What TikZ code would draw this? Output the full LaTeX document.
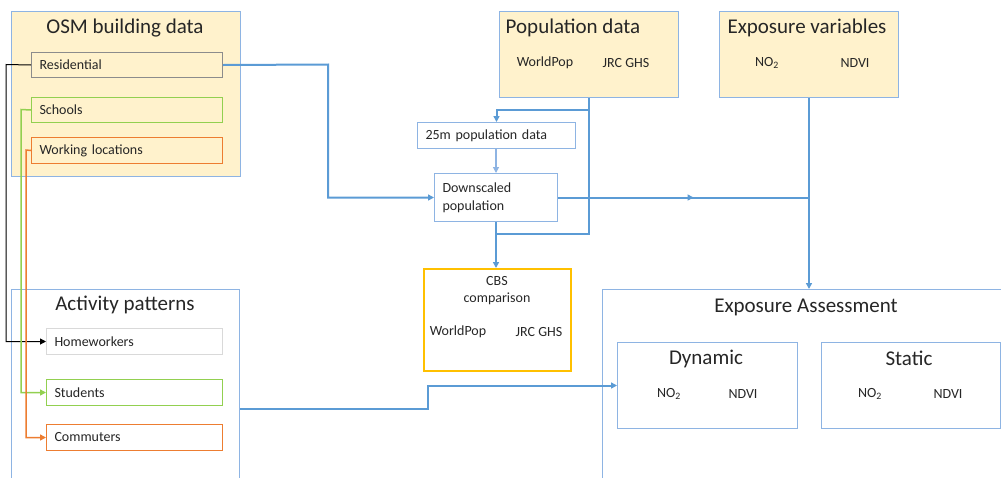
\documentclass[tikz,border=0pt]{standalone}
\usepackage{fontspec}
\setmainfont{Carlito}
\usetikzlibrary{arrows.meta,decorations.markings}
\definecolor{boxfill}{HTML}{FFF2CC}
\definecolor{bord}{HTML}{8EB4E3}
\definecolor{conn}{HTML}{5B9BD5}
\definecolor{resgray}{HTML}{8C8C8C}
\definecolor{grn}{HTML}{92D050}
\definecolor{org}{HTML}{ED7D31}
\definecolor{hwgray}{HTML}{D9D9D9}
\definecolor{gold}{HTML}{FFC000}
\definecolor{txt}{HTML}{262626}
\begin{document}
\begin{tikzpicture}[x=1pt,y=-1pt,
  every node/.style={text=txt},
  small/.style={font=\fontsize{14}{17}\selectfont},
  ttl/.style={font=\fontsize{21}{24}\selectfont, inner sep=0pt},
  frame/.style={draw=bord, line width=1pt, inner sep=0pt, anchor=north west},
  yframe/.style={frame, fill=boxfill},
  item/.style={anchor=north west, inner xsep=8pt, inner ysep=0pt, align=left, small, line width=1pt},
  link/.style={draw=conn, line width=2pt},
  thinlink/.style={draw=bord, line width=1.2pt},
  tip/.style={-{Triangle[length=6pt,width=6pt]}},
  blk/.style={draw=black, line width=1pt},
  grnl/.style={draw=grn, line width=1.5pt},
  orgl/.style={draw=org, line width=1.5pt},
  midtip/.style={postaction={decorate}, decoration={markings, mark=at position #1 with {\arrow{Triangle[length=6pt,width=6pt]}}}}
]
\useasboundingbox (0,0) rectangle (1001,477);
\clip (0,0) rectangle (1001,477);

% OSM building data
\node[yframe, minimum width=229pt, minimum height=165pt] (osm) at (11,11) {};
\node[ttl] (osmt) at (125,28) {OSM building data};
\node[item, draw=resgray, fill=boxfill, text width=175pt, minimum height=25pt] (res) at (31,52) {Residential};
\node[item, draw=grn, fill=boxfill, text width=175pt, minimum height=25pt] (sch) at (31,97) {Schools};
\node[item, draw=org, fill=boxfill, text width=175pt, minimum height=26pt] (work) at (31,137) {Working locations};

% Activity patterns
\node[frame, fill=white, minimum width=228pt, minimum height=200pt] (act) at (11,289) {};
\node[ttl] (actt) at (125,305) {Activity patterns};
\node[item, draw=hwgray, text width=160pt, minimum height=26pt] (hw) at (46,328) {Homeworkers};
\node[item, draw=grn, text width=160pt, minimum height=26pt] (stu) at (46,379) {Students};
\node[item, draw=org, text width=160pt, minimum height=26pt] (com) at (46,424) {Commuters};

% Population data
\node[yframe, minimum width=179pt, minimum height=86pt] (pop) at (499,11) {};
\node[ttl] (popt) at (573,28) {Population data};
\node[small] (popw) at (545,63) {WorldPop};
\node[small] (popj) at (626,63) {JRC GHS};

% Exposure variables
\node[yframe, minimum width=179pt, minimum height=86pt] (ev) at (719,11) {};
\node[ttl] (evt) at (807,28) {Exposure variables};
\node[small] (evn) at (767,63) {NO\textsubscript{2}};
\node[small] (evd) at (855,63) {NDVI};

% 25m and downscaled
\node[item, draw=bord, text width=142pt, minimum height=26pt] (m25) at (417,122) {25m population data};
\node[item, draw=bord, text width=107pt, minimum height=48pt, font=\fontsize{14}{18}\selectfont] (down) at (434,173) {Downscaled\\population};

% CBS comparison
\node[frame, draw=gold, line width=1.5pt, minimum width=147pt, minimum height=102pt] (cbs) at (423,268) {};
\node[small, align=center] (cbst) at (497,290.5) {CBS\\comparison};
\node[small] (cbsw) at (458,332) {WorldPop};
\node[small] (cbsj) at (539,332) {JRC GHS};

% Exposure assessment
\node[frame, fill=white, minimum width=402pt, minimum height=200pt] (ea) at (602,289) {};
\node[ttl] (eat) at (806,307) {Exposure Assessment};
\node[frame, minimum width=180pt, minimum height=86pt] (dyn) at (617,342) {};
\node[ttl] (dynt) at (706,359) {Dynamic};
\node[small] (dynn) at (669,394) {NO\textsubscript{2}};
\node[small] (dynd) at (743,394) {NDVI};
\node[frame, minimum width=179pt, minimum height=86pt] (sta) at (821,342) {};
\node[ttl] (stat) at (909,358) {Static};
\node[small] (stan) at (870,394) {NO\textsubscript{2}};
\node[small] (stad) at (948,394) {NDVI};

% connectors
\draw[link, tip] (res.east) -- (328,64.5) |- (down.west);
\draw[link] (pop.south) |- ([yshift=-12pt]down.south);
\draw[link, tip] ([yshift=-12pt]pop.south) -| (m25.north);
\draw[thinlink, tip] (m25.south -| down.south) -- (down.north);
\draw[link, tip] (down.south) -- (cbs.north -| down.south);
\draw[link, midtip=0.54] (down.east) -- (ev.south |- down.east);
\draw[link, tip] (ev.south) -- (ev.south |- ea.north);
\draw[link, tip] (act.east |- 0,409) -- (428,409) |- (dyn.west);
\draw[blk, tip] (res.west) -- (6,64.5) |- (hw.west);
\draw[grnl, tip] (sch.west) -- (21,109.5) |- (stu.west);
\draw[orgl, tip] (work.west) -- (26,150) |- (com.west);
\end{tikzpicture}
\end{document}
